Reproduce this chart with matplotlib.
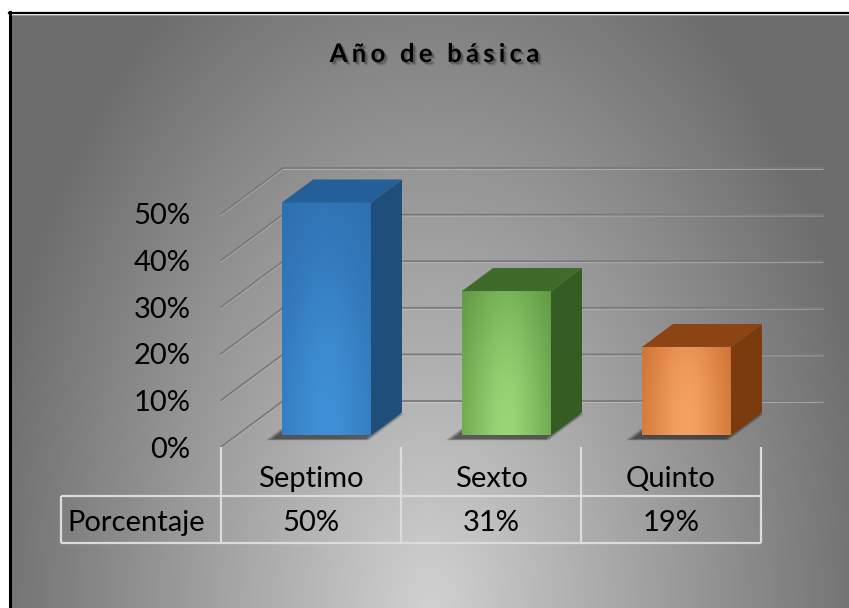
import numpy as np
import matplotlib
matplotlib.use('Agg')
import matplotlib.pyplot as plt
import matplotlib.colors as mcolors
import matplotlib.patheffects as pe
import matplotlib.transforms as mtrans
from matplotlib.patches import Polygon

# Data
categories = ['Septimo', 'Sexto', 'Quinto']
values = [0.50, 0.31, 0.19]
row_label = 'Porcentaje'
title = 'Año de básica'
y_ticks = [0.0, 0.1, 0.2, 0.3, 0.4, 0.5]
y_labels = ['0%', '10%', '20%', '30%', '40%', '50%']

# Bar colours (front dark / front light / side / top)
face_dark = ['#2c6cab', '#4c8230', '#b7551a']
face_light = ['#3f90d7', '#98d676', '#f5a261']
side_cols = ['#1f4e7b', '#345c23', '#7c3b0e']
top_cols = ['#245f98', '#3e6b2a', '#8c4414']

W, H = 849, 608
plt.rcParams['font.family'] = ['Lato', 'DejaVu Sans']
fig = plt.figure(figsize=(W / 100, H / 100), dpi=100)
fig.patch.set_facecolor('white')

# Background with radial grey gradient
bg = fig.add_axes([0, 0, 1, 1])
bg.set_xlim(0, W)
bg.set_ylim(H, 0)
bg.axis('off')
yy, xx = np.mgrid[15:H, 12:W]
r = np.sqrt(((xx - 430) / 415.0) ** 2 + ((yy - 608) / 680.0) ** 2)
g = np.clip(0.82 - 0.36 * r, 0.43, 1)
bg.imshow(np.dstack([g, g, g]), extent=(12, W, H, 15), aspect='auto', zorder=0)
bg.plot([10.5, 10.5], [12, H], color='black', lw=2.2, zorder=1)
bg.plot([9, W], [13.2, 13.2], color='black', lw=1.6, zorder=1)
bg.plot([12, W], [15, 15], color='#9a9a9a', lw=0.8, zorder=1)

# Title with letter spacing
renderer = fig.canvas.get_renderer()
title_kw = dict(fontsize=18.5, fontweight='bold', color='black')


def text_width(s):
    t = bg.text(0, 0, s, **title_kw)
    w = t.get_window_extent(renderer).width
    t.remove()
    return w


spacing = 4.2
advances = [text_width('x' + ch + 'x') - text_width('xx') for ch in title]
total = sum(advances) + spacing * (len(title) - 1)
cx = 434.5 - total / 2
shadow = [pe.SimplePatchShadow(offset=(1.5, -1.5), shadow_rgbFace='black', alpha=0.25),
          pe.SimplePatchShadow(offset=(2.5, -2.5), shadow_rgbFace='black', alpha=0.12),
          pe.Normal()]
for ch, adv in zip(title, advances):
    bg.text(cx, 62, ch, ha='left', va='baseline', path_effects=shadow, zorder=5, **title_kw)
    cx += adv + spacing

# Plot axes = front plane of the 3D box
x_left, x_right = 221, 761
y_base, y_top = 447, 447 - 5 * 46.6
n = len(categories)
ax = fig.add_axes([x_left / W, (H - y_base) / H, (x_right - x_left) / W, (y_base - y_top) / H])
ax.set_xlim(-0.5, n - 0.5)
ax.set_ylim(0, 0.5)
ax.set_autoscale_on(False)
ax.patch.set_visible(False)
for s in ax.spines.values():
    s.set_visible(False)
ax.set_xticks([])
ax.set_yticks(y_ticks, y_labels)
ax.tick_params(axis='y', length=0, pad=22, labelsize=21, labelcolor='black')

depth = np.array([62.0, 46.0])  # pixel offset of the back wall


def proj(x, v, d):
    p = ax.transData.transform((x, v)) + d * depth
    return ax.transData.inverted().transform(p)


def py(pix_y):
    return ax.transData.inverted().transform((0, H - pix_y))[1]


def px(pix_x):
    return ax.transData.inverted().transform((pix_x, 0))[0]


# Walls: back gridlines + left wall slants
hl = ax.transData + mtrans.Affine2D().translate(0, -1.4)
for v in y_ticks:
    c = proj(-0.5, v, 0)
    b1 = proj(-0.5, v, 1)
    b2 = proj(n - 0.5, v, 1)
    xs, ys = [c[0], b1[0], b2[0]], [c[1], b1[1], b2[1]]
    ax.plot(xs, ys, color='#d0d0d0', lw=0.8, alpha=0.5, clip_on=False, zorder=1, transform=hl)
    ax.plot(xs, ys, color='#7a7a7a', lw=1.3, clip_on=False, zorder=1.1)

# Bars
bw = 0.494
d0, d1 = 0.25, 0.75
for i, v in enumerate(values):
    xl, xr = i - bw / 2, i + bw / 2

    # soft shadow under the bar
    base_pix = np.array([ax.transData.transform(proj(x, 0, d)) for x, d in
                         [(xl, d0), (xr, d0), (xr, d1), (xl, d1)]])
    ctr = base_pix.mean(axis=0)
    for k in range(6):
        s = 1.16 - 0.025 * k
        pts = (base_pix - ctr) * s + ctr + np.array([-7, -3])
        ax.add_patch(Polygon(ax.transData.inverted().transform(pts), closed=True,
                             facecolor='black', edgecolor='none', alpha=0.11,
                             clip_on=False, zorder=2))

    # front face with gradient (lighter towards the bottom centre)
    p0 = proj(xl, 0, d0)
    p1 = proj(xr, v, d0)
    h_pix = ax.transData.transform(p1)[1] - ax.transData.transform(p0)[1]
    U, Y = np.meshgrid(np.linspace(-1, 1, 60), np.linspace(0, h_pix, 120))
    f = (0.3 + 0.7 * np.exp(-(U / 0.9) ** 2)) * np.exp(-(np.maximum(Y - 5, 0) / 190.0) ** 2)
    dark = np.array(mcolors.to_rgb(face_dark[i]))
    light = np.array(mcolors.to_rgb(face_light[i]))
    face = dark + (light - dark) * f[..., None]
    ax.imshow(face, extent=(p0[0], p1[0], p0[1], p1[1]), origin='lower', aspect='auto',
              interpolation='bilinear', clip_on=False, zorder=3)

    side = [proj(xr, 0, d0), proj(xr, 0, d1), proj(xr, v, d1), proj(xr, v, d0)]
    top = [proj(xl, v, d0), proj(xr, v, d0), proj(xr, v, d1), proj(xl, v, d1)]
    ax.add_patch(Polygon(side, closed=True, facecolor=side_cols[i], edgecolor='none',
                         clip_on=False, zorder=3))
    ax.add_patch(Polygon(top, closed=True, facecolor=top_cols[i], edgecolor='none',
                         clip_on=False, zorder=3))

# Data table
line_kw = dict(color='#dcdcdc', lw=1.6, clip_on=False, zorder=2, solid_capstyle='butt')
left = px(61)
for k in range(n + 1):
    ax.plot([k - 0.5, k - 0.5], [py(447), py(543)], **line_kw)
for yrow in (496, 543):
    ax.plot([left, n - 0.5], [py(yrow), py(yrow)], **line_kw)
ax.plot([left, left], [py(496), py(543)], **line_kw)

for i, (cat, v) in enumerate(zip(categories, values)):
    ax.text(i, py(487), cat, ha='center', va='baseline', fontsize=21, color='black', clip_on=False)
    ax.text(i, py(531), f'{v:.0%}', ha='center', va='baseline', fontsize=21, color='black',
            clip_on=False)
ax.text(px(67), py(531), row_label, ha='left', va='baseline', fontsize=21, color='black',
        clip_on=False)

fig.savefig('out.png', dpi=100)
